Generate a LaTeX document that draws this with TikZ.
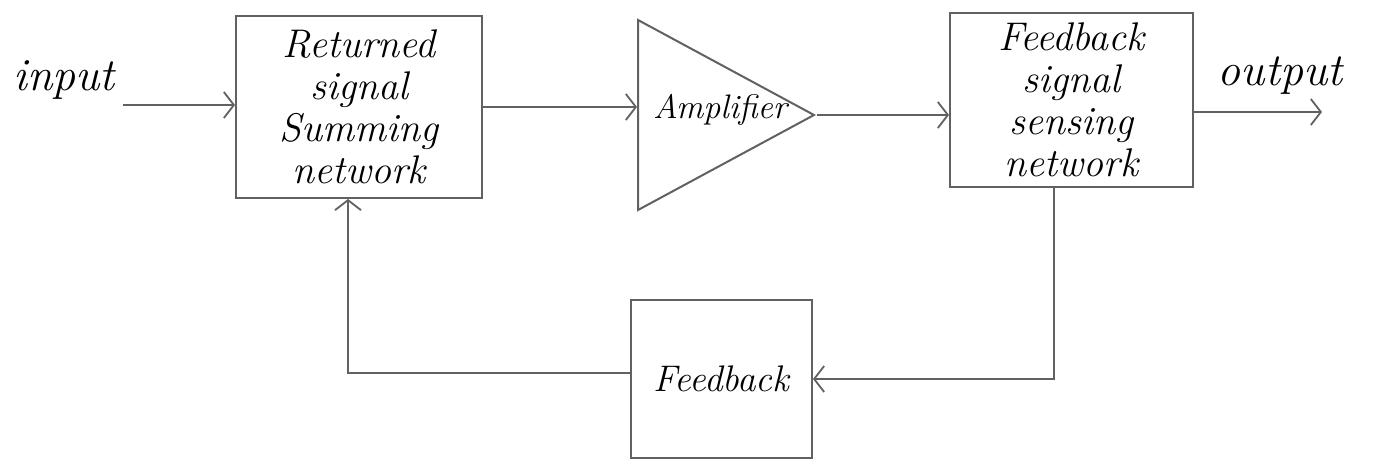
\documentclass[tikz,border=0pt]{standalone}
\usetikzlibrary{arrows.meta,shapes.geometric}
\newcommand\handfont{\itshape\fontsize{40}{42}\selectfont}
\tikzset{
  wire/.style={draw=black!62, line width=2pt},
  flow/.style={wire, -{Straight Barb[length=10pt,width=26pt,line width=1.8pt]}},
  block/.style={draw=black!62, line width=2pt, rectangle, inner sep=0pt,
    align=center, font=\handfont},
  label/.style={inner sep=0pt, font=\itshape\fontsize{46}{50}\selectfont},
}
\begin{document}
\begin{tikzpicture}[x=1pt,y=-1pt]
  \fill[white] (0,0) rectangle (1374,463);
  \useasboundingbox (0,0) rectangle (1374,463);

  % forward path blocks
  \node[block, minimum width=246pt, minimum height=182pt] (sum) at (359,107)
    {Returned\\signal\\Summing\\network};
  \node[draw=black!62, line width=2pt, isosceles triangle,
        isosceles triangle stretches, minimum width=190pt, minimum height=176pt,
        inner sep=0pt, anchor=lower side] (amp) at (637,115) {};
  \node[inner sep=0pt, font=\itshape\fontsize{34}{38}\selectfont] (amplabel)
    at (720,110) {Amplifier};
  \node[block, minimum width=243pt, minimum height=174pt] (sense) at (1071.5,100)
    {Feedback\\signal\\sensing\\network};

  % feedback block
  \node[block, minimum width=181pt, minimum height=158pt,
        font=\itshape\fontsize{37}{40}\selectfont] (fb) at (721.5,379) {Feedback};

  % terminals
  \node[label] (inlabel) at (64,80) {input};
  \node[label] (outlabel) at (1280,76) {output};
  \coordinate (in) at (123,105);
  \coordinate (out) at (1322,112);

  % connectors
  \draw[flow] (in) -- (in -| sum.west);
  \draw[flow] (sum.east) -- (sum.east -| amp.lower side);
  \draw[flow] (amp.apex) -- (amp.apex -| sense.west);
  \draw[flow] (sense.east |- out) -- (out);
  \draw[flow] ([xshift=-18pt]sense.south) |- (fb.east);
  \draw[flow] ([yshift=6pt]fb.west) -| ([xshift=-11pt]sum.south);
\end{tikzpicture}
\end{document}
